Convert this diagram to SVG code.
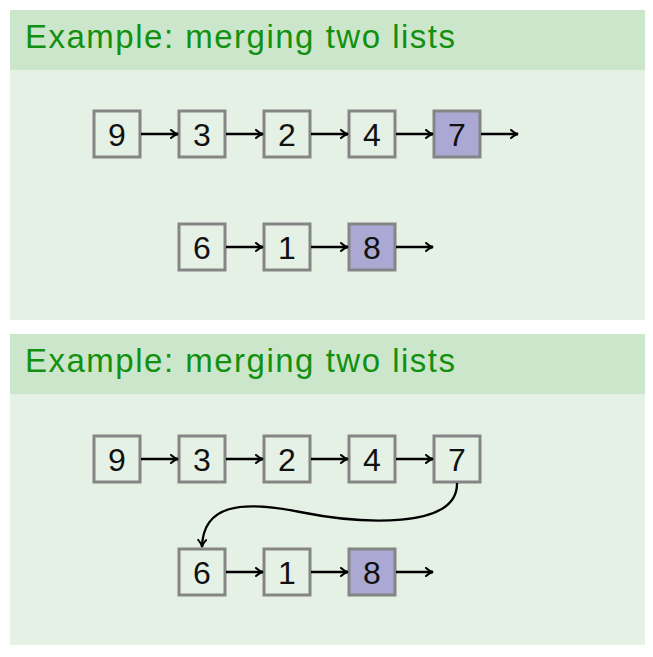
<svg xmlns="http://www.w3.org/2000/svg" width="653" height="657" viewBox="0 0 653 657">
<style>
.hdr{fill:#cce6cc}
.body{fill:#e6f1e6}
.title{font-family:"Liberation Sans",Arial,sans-serif;font-size:33px;fill:#13900f}
.box{fill:#e6f1e6;stroke:#858585;stroke-width:3}
.hl{fill:#aca8d4}
.num{font-family:"Liberation Sans",Arial,sans-serif;font-size:32px;fill:#111;text-anchor:middle}
.arr{fill:none;stroke:#000;stroke-width:2.3;marker-end:url(#ah)}
</style>
<defs>
<marker id="ah" viewBox="0 0 10 10" refX="9" refY="5" markerWidth="10" markerHeight="10" markerUnits="userSpaceOnUse" orient="auto">
<path d="M2,1 Q5,4 9,5 Q5,6 2,9" fill="none" stroke="#000" stroke-width="2" stroke-linecap="round"/>
</marker>
</defs>
<rect width="653" height="657" fill="#fff"/>
<g id="panel1">
<rect class="body" x="10" y="10" width="635" height="310"/>
<rect class="hdr" x="10" y="10" width="635" height="60"/>
<text class="title" x="25" y="48" textLength="430">Example: merging two lists</text>
</g>
<g id="panel2">
<rect class="body" x="10" y="334" width="635" height="311"/>
<rect class="hdr" x="10" y="334" width="635" height="60"/>
<text class="title" x="25" y="372" textLength="430">Example: merging two lists</text>
</g>
<g id="p1-n9"><rect class="box" x="94" y="111" width="46" height="46"/><text class="num" x="117" y="146">9</text></g>
<g id="p1-n3"><rect class="box" x="179" y="111" width="46" height="46"/><text class="num" x="202" y="146">3</text></g>
<g id="p1-n2"><rect class="box" x="264" y="111" width="46" height="46"/><text class="num" x="287" y="146">2</text></g>
<g id="p1-n4"><rect class="box" x="349" y="111" width="46" height="46"/><text class="num" x="372" y="146">4</text></g>
<g id="p1-n7"><rect class="box hl" x="434" y="111" width="46" height="46"/><text class="num" x="457" y="146">7</text></g>
<g id="p1-n6"><rect class="box" x="179" y="224" width="46" height="46"/><text class="num" x="202" y="259">6</text></g>
<g id="p1-n1"><rect class="box" x="264" y="224" width="46" height="46"/><text class="num" x="287" y="259">1</text></g>
<g id="p1-n8"><rect class="box hl" x="349" y="224" width="46" height="46"/><text class="num" x="372" y="259">8</text></g>
<g id="p2-n9"><rect class="box" x="94" y="436" width="46" height="46"/><text class="num" x="117" y="471">9</text></g>
<g id="p2-n3"><rect class="box" x="179" y="436" width="46" height="46"/><text class="num" x="202" y="471">3</text></g>
<g id="p2-n2"><rect class="box" x="264" y="436" width="46" height="46"/><text class="num" x="287" y="471">2</text></g>
<g id="p2-n4"><rect class="box" x="349" y="436" width="46" height="46"/><text class="num" x="372" y="471">4</text></g>
<g id="p2-n7"><rect class="box" x="434" y="436" width="46" height="46"/><text class="num" x="457" y="471">7</text></g>
<g id="p2-n6"><rect class="box" x="179" y="549" width="46" height="46"/><text class="num" x="202" y="584">6</text></g>
<g id="p2-n1"><rect class="box" x="264" y="549" width="46" height="46"/><text class="num" x="287" y="584">1</text></g>
<g id="p2-n8"><rect class="box hl" x="349" y="549" width="46" height="46"/><text class="num" x="372" y="584">8</text></g>
<g id="connectors">
<path class="arr" d="M141,134 H178"/>
<path class="arr" d="M226,134 H263"/>
<path class="arr" d="M311,134 H348"/>
<path class="arr" d="M396,134 H433"/>
<path class="arr" d="M481,134 H518"/>
<path class="arr" d="M226,247 H263"/>
<path class="arr" d="M311,247 H348"/>
<path class="arr" d="M396,247 H433"/>
<path class="arr" d="M141,459 H178"/>
<path class="arr" d="M226,459 H263"/>
<path class="arr" d="M311,459 H348"/>
<path class="arr" d="M396,459 H433"/>
<path class="arr" d="M226,572 H263"/>
<path class="arr" d="M311,572 H348"/>
<path class="arr" d="M396,572 H433"/>
<path class="arr" d="M457,483 C458,530 360,524 300,512 C240,500 203,505 202,547"/>
</g>
</svg>
